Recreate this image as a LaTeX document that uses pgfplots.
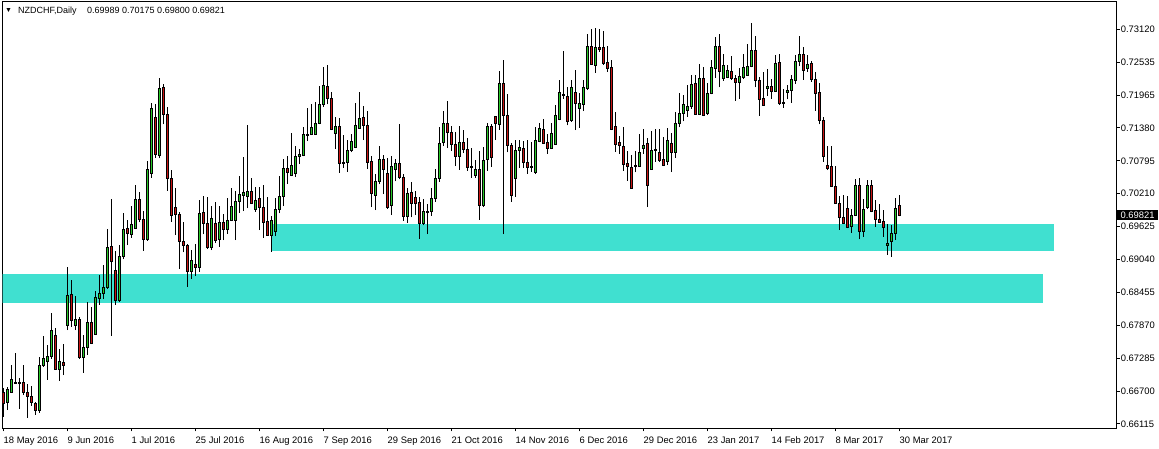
\documentclass[border=0pt]{standalone}
\usepackage{fontspec}
\setmainfont{Liberation Sans}
\usepackage{pgfplots}
\pgfplotsset{compat=1.18}
\usepackage{pgfplotstable}
\definecolor{bull}{RGB}{40,200,40}
\definecolor{bear}{RGB}{200,20,20}
\definecolor{zone}{RGB}{64,224,208}
\pgfplotstableread{
i o h l c
0 0.66667 0.66755 0.66240 0.66477
1 0.66495 0.66773 0.66359 0.66726
2 0.66673 0.67170 0.66667 0.66903
3 0.66838 0.67383 0.66832 0.66856
4 0.66850 0.66939 0.66388 0.66838
5 0.66856 0.67158 0.66625 0.66667
6 0.66673 0.66832 0.66223 0.66596
7 0.66607 0.66785 0.66436 0.66489
8 0.66477 0.66507 0.66282 0.66347
9 0.66347 0.67306 0.66317 0.67158
10 0.67146 0.67673 0.67128 0.67276
11 0.67217 0.67513 0.66903 0.67318
12 0.67306 0.68087 0.67276 0.67780
13 0.67691 0.67827 0.67081 0.67081
14 0.67081 0.67442 0.66880 0.67229
15 0.67205 0.67531 0.66980 0.67146
16 0.67868 0.68893 0.67780 0.68401
17 0.68413 0.68668 0.67839 0.67945
18 0.67857 0.68383 0.67780 0.67975
19 0.67975 0.68016 0.67265 0.67294
20 0.67294 0.67691 0.67022 0.67472
21 0.67472 0.68283 0.67347 0.67922
22 0.67922 0.68194 0.67531 0.67543
23 0.67703 0.68472 0.67703 0.68360
24 0.68342 0.68756 0.68235 0.68431
25 0.68431 0.68934 0.68330 0.68537
26 0.68537 0.69573 0.68508 0.69248
27 0.69271 0.70106 0.67679 0.68993
28 0.68839 0.69177 0.68235 0.68301
29 0.68301 0.69289 0.68283 0.69094
30 0.69094 0.69852 0.69035 0.69567
31 0.69579 0.69733 0.69289 0.69490
32 0.69479 0.69988 0.69419 0.69656
33 0.69585 0.70355 0.69585 0.70106
34 0.70106 0.70236 0.69692 0.69745
35 0.69745 0.69893 0.69189 0.69390
36 0.69390 0.70781 0.69366 0.70633
37 0.70562 0.71811 0.70485 0.71716
38 0.71557 0.71787 0.70840 0.70899
39 0.70888 0.72261 0.70828 0.72072
40 0.72089 0.72149 0.71432 0.71610
41 0.71610 0.71740 0.70254 0.70473
42 0.70473 0.70621 0.69704 0.69816
43 0.69958 0.70307 0.69467 0.69834
44 0.69834 0.69869 0.68863 0.69348
45 0.69354 0.69698 0.69159 0.69283
46 0.69289 0.69313 0.68549 0.68816
47 0.68816 0.69200 0.68685 0.69017
48 0.68952 0.69307 0.68745 0.68893
49 0.68893 0.70088 0.68816 0.69852
50 0.69869 0.70159 0.69479 0.69668
51 0.69674 0.70142 0.69218 0.69242
52 0.69248 0.69982 0.69200 0.69763
53 0.69674 0.70047 0.69325 0.69378
54 0.69384 0.69982 0.69260 0.69692
55 0.69692 0.69834 0.69378 0.69573
56 0.69573 0.70124 0.69490 0.69727
57 0.69727 0.70302 0.69715 0.69976
58 0.69727 0.70248 0.69378 0.70059
59 0.70059 0.70509 0.69863 0.70189
60 0.70177 0.70852 0.69893 0.70225
61 0.70148 0.71420 0.69940 0.70242
62 0.70236 0.70473 0.70017 0.70029
63 0.69917 0.70319 0.69881 0.70082
64 0.70118 0.70319 0.69556 0.69952
65 0.69958 0.70355 0.69419 0.69686
66 0.69715 0.70142 0.69455 0.69467
67 0.69467 0.69810 0.69171 0.69727
68 0.69526 0.70130 0.69449 0.69923
69 0.69923 0.70515 0.69852 0.70159
70 0.70148 0.70817 0.69982 0.70651
71 0.70651 0.70870 0.70373 0.70574
72 0.70532 0.71278 0.70515 0.70704
73 0.70556 0.71047 0.70497 0.70864
74 0.70858 0.70988 0.70728 0.70899
75 0.70888 0.71385 0.70864 0.71261
76 0.71231 0.71722 0.71136 0.71261
77 0.71255 0.71799 0.71243 0.71379
78 0.71261 0.71823 0.71243 0.71450
79 0.71444 0.72113 0.71432 0.71787
80 0.71787 0.72450 0.71740 0.72125
81 0.72113 0.72486 0.71787 0.71894
82 0.71900 0.72001 0.71332 0.71343
83 0.71272 0.71562 0.70994 0.71391
84 0.71397 0.71545 0.70574 0.70740
85 0.70763 0.71243 0.70663 0.70734
86 0.70751 0.71148 0.70592 0.70970
87 0.70965 0.71266 0.70935 0.71130
88 0.71018 0.71811 0.71012 0.71420
89 0.71361 0.72001 0.71361 0.71539
90 0.71557 0.71752 0.71154 0.71409
91 0.71420 0.71663 0.70639 0.70757
92 0.70775 0.70870 0.69964 0.70201
93 0.70171 0.70556 0.69911 0.70426
94 0.70420 0.71047 0.70367 0.70811
95 0.70811 0.70888 0.70195 0.70627
96 0.70562 0.70828 0.69934 0.69964
97 0.69988 0.70870 0.69822 0.70686
98 0.70633 0.70811 0.70420 0.70740
99 0.70740 0.71444 0.70455 0.70491
100 0.70491 0.70544 0.69721 0.69792
101 0.69792 0.70296 0.69686 0.70207
102 0.70225 0.70408 0.69781 0.70023
103 0.70142 0.70248 0.69822 0.70023
104 0.70047 0.70142 0.69402 0.69668
105 0.69668 0.70106 0.69638 0.69881
106 0.69893 0.70017 0.69485 0.69863
107 0.69881 0.70302 0.69810 0.70118
108 0.70112 0.70639 0.70059 0.70473
109 0.70467 0.71385 0.70414 0.71095
110 0.71107 0.71663 0.71047 0.71450
111 0.71450 0.71847 0.71012 0.71284
112 0.71290 0.71403 0.70959 0.71071
113 0.71077 0.71296 0.70692 0.70858
114 0.70858 0.71403 0.70627 0.71113
115 0.71113 0.71326 0.70923 0.70994
116 0.70994 0.71195 0.70609 0.70663
117 0.70692 0.71012 0.70485 0.70674
118 0.70526 0.70799 0.70485 0.70633
119 0.70633 0.70959 0.69739 0.69988
120 0.69988 0.71030 0.69964 0.70793
121 0.70805 0.71462 0.70609 0.71403
122 0.71403 0.71444 0.70680 0.70840
123 0.71580 0.71580 0.71154 0.71444
124 0.71426 0.72379 0.71338 0.72149
125 0.72149 0.72575 0.69485 0.71592
126 0.71598 0.71971 0.70935 0.71059
127 0.71059 0.71095 0.70059 0.70165
128 0.70467 0.71148 0.70148 0.70976
129 0.70965 0.71148 0.70663 0.71030
130 0.71012 0.71136 0.70663 0.70751
131 0.70763 0.71154 0.70556 0.70663
132 0.70692 0.71118 0.70592 0.70663
133 0.70574 0.71385 0.70550 0.71154
134 0.71136 0.71462 0.71113 0.71367
135 0.71343 0.71527 0.71083 0.71095
136 0.71118 0.71261 0.70911 0.71000
137 0.71000 0.71456 0.70994 0.71278
138 0.71071 0.71776 0.71071 0.71598
139 0.71515 0.72220 0.71503 0.72006
140 0.71953 0.72735 0.71882 0.71965
141 0.71935 0.72095 0.71414 0.71491
142 0.71509 0.72220 0.71480 0.72078
143 0.72006 0.72397 0.71332 0.71799
144 0.71710 0.71995 0.71373 0.71811
145 0.71782 0.72220 0.71669 0.72095
146 0.72066 0.73037 0.72042 0.72806
147 0.72818 0.73119 0.72486 0.72498
148 0.72474 0.73137 0.72350 0.72788
149 0.72800 0.73125 0.72723 0.72764
150 0.72800 0.73090 0.72486 0.72504
151 0.72533 0.72823 0.72368 0.72421
152 0.72433 0.72569 0.71332 0.71349
153 0.71397 0.71645 0.70947 0.71071
154 0.71118 0.71225 0.70911 0.71059
155 0.71047 0.71385 0.70609 0.70716
156 0.70746 0.70959 0.70432 0.70680
157 0.70674 0.70888 0.70290 0.70296
158 0.70710 0.70959 0.70580 0.70680
159 0.70680 0.71261 0.70674 0.70941
160 0.71000 0.71349 0.70911 0.71065
161 0.71101 0.71184 0.69964 0.70343
162 0.70633 0.71314 0.70627 0.70976
163 0.70965 0.71349 0.70769 0.70994
164 0.70941 0.71349 0.70769 0.70787
165 0.70811 0.71207 0.70692 0.70704
166 0.70769 0.71367 0.70710 0.71154
167 0.71101 0.71278 0.70586 0.70935
168 0.70935 0.71651 0.70840 0.71456
169 0.71450 0.71989 0.71379 0.71628
170 0.71622 0.71947 0.71486 0.71787
171 0.71675 0.72125 0.71568 0.71758
172 0.71752 0.72308 0.71705 0.72143
173 0.72149 0.72308 0.71604 0.71610
174 0.71610 0.72504 0.71598 0.72255
175 0.72255 0.72445 0.71580 0.71598
176 0.71622 0.72172 0.71598 0.71983
177 0.71977 0.72581 0.71965 0.72433
178 0.72427 0.72989 0.72261 0.72806
179 0.72806 0.73037 0.72089 0.72368
180 0.72243 0.72681 0.72208 0.72480
181 0.72267 0.72486 0.72249 0.72391
182 0.72379 0.72646 0.72220 0.72243
183 0.72255 0.72302 0.71853 0.72172
184 0.72172 0.72433 0.71888 0.72279
185 0.72267 0.72681 0.72237 0.72445
186 0.72297 0.72859 0.72297 0.72462
187 0.72468 0.73226 0.72445 0.72752
188 0.72752 0.73001 0.72089 0.72208
189 0.72214 0.72273 0.71586 0.71876
190 0.71900 0.72356 0.71764 0.71770
191 0.72072 0.72415 0.71935 0.72113
192 0.72113 0.72237 0.71888 0.72018
193 0.72024 0.72658 0.72012 0.72516
194 0.72539 0.72681 0.71776 0.71799
195 0.71829 0.72060 0.71728 0.71799
196 0.71995 0.72131 0.71876 0.72036
197 0.72030 0.72308 0.71817 0.72237
198 0.72214 0.72664 0.72154 0.72551
199 0.72545 0.73001 0.72462 0.72681
200 0.72675 0.72806 0.72226 0.72385
201 0.72427 0.72658 0.72368 0.72498
202 0.72516 0.72557 0.72191 0.72226
203 0.72237 0.72368 0.71675 0.71977
204 0.72001 0.72166 0.71432 0.71497
205 0.71509 0.71562 0.70769 0.70858
206 0.70704 0.71047 0.70621 0.70645
207 0.70692 0.71047 0.70319 0.70325
208 0.70331 0.70692 0.70023 0.70023
209 0.70029 0.70159 0.69562 0.69775
210 0.69786 0.70177 0.69662 0.69668
211 0.69940 0.70159 0.69585 0.69597
212 0.69615 0.69923 0.69508 0.69816
213 0.69810 0.70461 0.69810 0.70349
214 0.70349 0.70479 0.69390 0.69526
215 0.69526 0.70112 0.69437 0.69923
216 0.69952 0.70450 0.69923 0.70349
217 0.70349 0.70444 0.69869 0.69893
218 0.69905 0.70088 0.69615 0.69739
219 0.69745 0.70011 0.69686 0.69698
220 0.69710 0.69905 0.69437 0.69603
221 0.69283 0.69656 0.69118 0.69319
222 0.69348 0.69644 0.69082 0.69496
223 0.69490 0.70124 0.69378 0.69940
224 0.69989 0.70175 0.69800 0.69821
}\ohlc

\begin{document}
\begin{tikzpicture}[x=1pt,y=1pt]
\path[use as bounding box] (0,0) rectangle (1159,449);
\begin{axis}[
  at={(2.7pt,20.7pt)}, anchor=south west,
  scale only axis, width=1114pt, height=426.8pt,
  xmin=-0.2, xmax=278.3, ymin=0.660385, ymax=0.73613,
  clip mode=individual,
  axis line style={black, line width=1pt},
  tick style={black, line width=1pt},
  tick align=outside, major tick length=3pt,
  xtick pos=left, ytick pos=right, yticklabel pos=right,
  xtick={0,16,...,224},
  xticklabels={18 May 2016,9 Jun 2016,1 Jul 2016,25 Jul 2016,16 Aug 2016,7 Sep 2016,29 Sep 2016,21 Oct 2016,14 Nov 2016,6 Dec 2016,29 Dec 2016,23 Jan 2017,14 Feb 2017,8 Mar 2017,30 Mar 2017},
  ytick={0.731200,0.725363,0.719525,0.713688,0.707850,0.702013,0.696175,0.690338,0.684500,0.678663,0.672825,0.666988,0.661150},
  yticklabels={0.73120,0.72535,0.71965,0.71380,0.70795,0.70210,0.69625,0.69040,0.68455,0.67870,0.67285,0.66700,0.66115},
  scaled y ticks=false,
  ticklabel style={font=\fontsize{9.4}{11}\selectfont},
  xticklabel style={anchor=base west, inner sep=0pt, yshift=-12pt},
  yticklabel style={anchor=west, inner sep=0pt, xshift=1pt},
]
% zones
\addplot[fill=zone, draw=none, forget plot] coordinates {(-1,0.68268) (259.9,0.68268) (259.9,0.68777) (-1,0.68777)};
\addplot[fill=zone, draw=none, forget plot] coordinates {(66.93,0.69191) (262.75,0.69191) (262.75,0.69670) (66.93,0.69670)};
% wicks (high-low)
\addplot[black, only marks, mark=text, text mark={}, forget plot,
  error bars/.cd, y dir=plus, y explicit, error mark=none,
  error bar style={black, line width=1pt}]
  table[x=i, y=l, y error plus expr={\thisrow{h}-\thisrow{l}}] {\ohlc};
% current price label
\node[fill=black, text=white, anchor=west, inner sep=0pt, minimum width=41.5pt, minimum height=9.5pt, font=\fontsize{9.4}{11}\selectfont] at (axis cs:278.3,0.69821) {0.69821};
\end{axis}
% candle bodies (open-close), stacked on an invisible base
\begin{axis}[
  at={(2.7pt,20.7pt)}, anchor=south west,
  scale only axis, width=1114pt, height=426.8pt,
  xmin=-0.2, xmax=278.3, ymin=0.660385, ymax=0.73613,
  hide axis, ybar stacked, bar width=2pt,
]
\addplot[draw=none, fill=none] table[x=i, y expr={min(\thisrow{o},\thisrow{c})}] {\ohlc};
\addplot[draw=black, fill=bull, line width=1pt] table[x=i, y expr={max(\thisrow{c}-\thisrow{o},0)}] {\ohlc};
\addplot[draw=black, fill=bear, line width=1pt] table[x=i, y expr={max(\thisrow{o}-\thisrow{c},0)}] {\ohlc};
\end{axis}
\node[anchor=base west, inner sep=0pt, font=\fontsize{7}{8}\selectfont] at (5,436) {▼};
\node[anchor=base west, inner sep=0pt, font=\fontsize{9}{11}\selectfont] at (18,435) {NZDCHF,Daily};
\node[anchor=base west, inner sep=0pt, font=\fontsize{9}{11}\selectfont] at (87,435) {0.69989 0.70175 0.69800 0.69821};
\end{tikzpicture}
\end{document}
